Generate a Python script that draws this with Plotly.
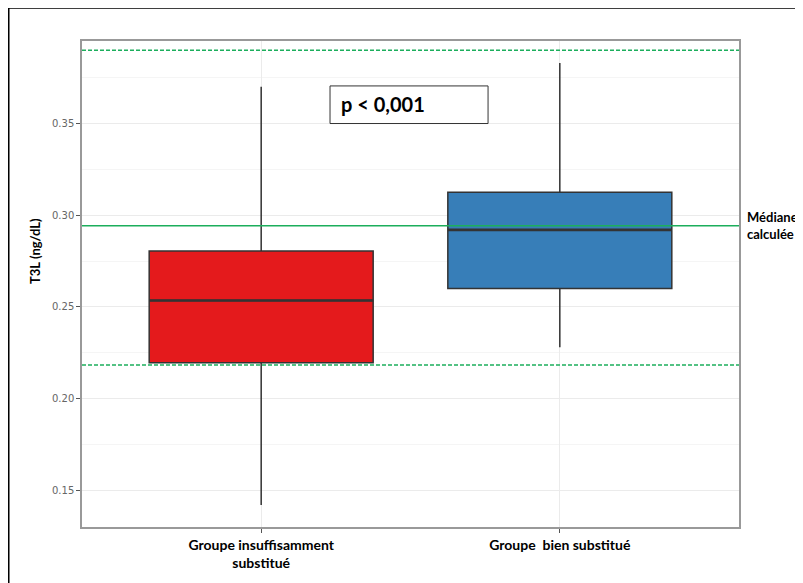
import plotly.graph_objects as go

# ---- data ----
groups = ["Groupe insuffisamment<br>substitué", "Groupe  bien substitué"]
lower_whisker = [0.142, 0.228]
q1 = [0.2195, 0.260]
median = [0.2535, 0.292]
q3 = [0.2805, 0.3125]
upper_whisker = [0.370, 0.383]
colors = ["#E41A1C", "#377EB8"]
median_calc = 0.2942
ref_low = 0.2184
ref_high = 0.3900
y_ticks = [0.15, 0.20, 0.25, 0.30, 0.35]
p_text = "p < 0,001"

FONT = "Lato"
BOX_W = 0.75

fig = go.Figure()
for i, g in enumerate(groups):
    fig.add_trace(go.Box(
        x=[i + 1],
        q1=[q1[i]], median=[median[i]], q3=[q3[i]],
        lowerfence=[lower_whisker[i]], upperfence=[upper_whisker[i]],
        fillcolor=colors[i],
        line=dict(color="#333333", width=1.5),
        width=BOX_W,
        whiskerwidth=0,
        boxpoints=False,
        showlegend=False,
        hoverinfo="skip",
    ))
    # thicker median (ggplot style)
    fig.add_trace(go.Scatter(
        x=[i + 1 - BOX_W / 2, i + 1 + BOX_W / 2], y=[median[i], median[i]],
        mode="lines", line=dict(color="#333333", width=2.6),
        showlegend=False, hoverinfo="skip",
    ))

# reference lines
GREEN = "#1cae5c"
for val, dash in [(ref_high, "4px,2px"), (ref_low, "4px,2px"), (median_calc, "solid")]:
    fig.add_shape(type="line", xref="paper", yref="y", x0=0, x1=1, y0=val, y1=val,
                  line=dict(color=GREEN, width=1.5, dash=dash), layer="above")

# p-value box
fig.add_shape(type="rect", xref="x", yref="y", x0=1.2305, x1=1.7597, y0=0.350, y1=0.3705,
              line=dict(color="#333333", width=1), fillcolor="white", layer="above")
fig.add_annotation(x=1.262, y=0.3605, xref="x", yref="y", text="<b>" + p_text + "</b>",
                   showarrow=False, xanchor="left", yanchor="middle",
                   font=dict(family=FONT, size=20, color="black"))

# Médiane calculée label
fig.add_annotation(x=1.0085, y=median_calc, xref="paper", yref="y",
                   text="<b>Médiane<br>calculée</b>", showarrow=False,
                   xanchor="left", yanchor="middle", align="left",
                   font=dict(family=FONT, size=13, color="black"))

# y axis title
fig.add_annotation(x=-0.0715, y=0.568, xref="paper", yref="paper",
                   text="<b>T3L (ng/dL)</b>", textangle=-90, showarrow=False,
                   xanchor="center", yanchor="middle",
                   font=dict(family=FONT, size=13, color="black"))

# outer frame
fig.add_shape(type="rect", xref="paper", yref="paper", x0=-0.1126, x1=1.3, y0=-0.3, y1=1.0695,
              line=dict(color="black", width=3), fillcolor="rgba(0,0,0,0)", layer="above")

fig.update_layout(
    width=795, height=575,
    margin=dict(l=74, r=64, t=33, b=53),
    paper_bgcolor="white", plot_bgcolor="white",
    showlegend=False,
    xaxis=dict(
        range=[0.4, 2.6], tickvals=[1, 2], ticktext=["<b>" + g + "</b>" for g in groups],
        showgrid=True, gridcolor="#ebebeb", gridwidth=1,
        ticks="outside", ticklen=4, tickcolor="#555555",
        tickfont=dict(family=FONT, size=14, color="black"),
        showline=True, linecolor="#999999", linewidth=1.5, mirror=True, zeroline=False,
    ),
    yaxis=dict(
        range=[0.130, 0.395], tickvals=y_ticks, ticktext=[f"{v:.2f}" for v in y_ticks],
        showgrid=True, gridcolor="#ebebeb", gridwidth=1,
        minor=dict(tickvals=[0.175, 0.225, 0.275, 0.325, 0.375], showgrid=True,
                   gridcolor="#f5f5f5", gridwidth=1, ticks=""),
        ticks="outside", ticklen=4, tickcolor="#555555",
        tickfont=dict(family="DejaVu Sans", size=10, color="#666666"),
        showline=True, linecolor="#999999", linewidth=1.5, mirror=True, zeroline=False,
    ),
)

fig.write_html("out.html")
